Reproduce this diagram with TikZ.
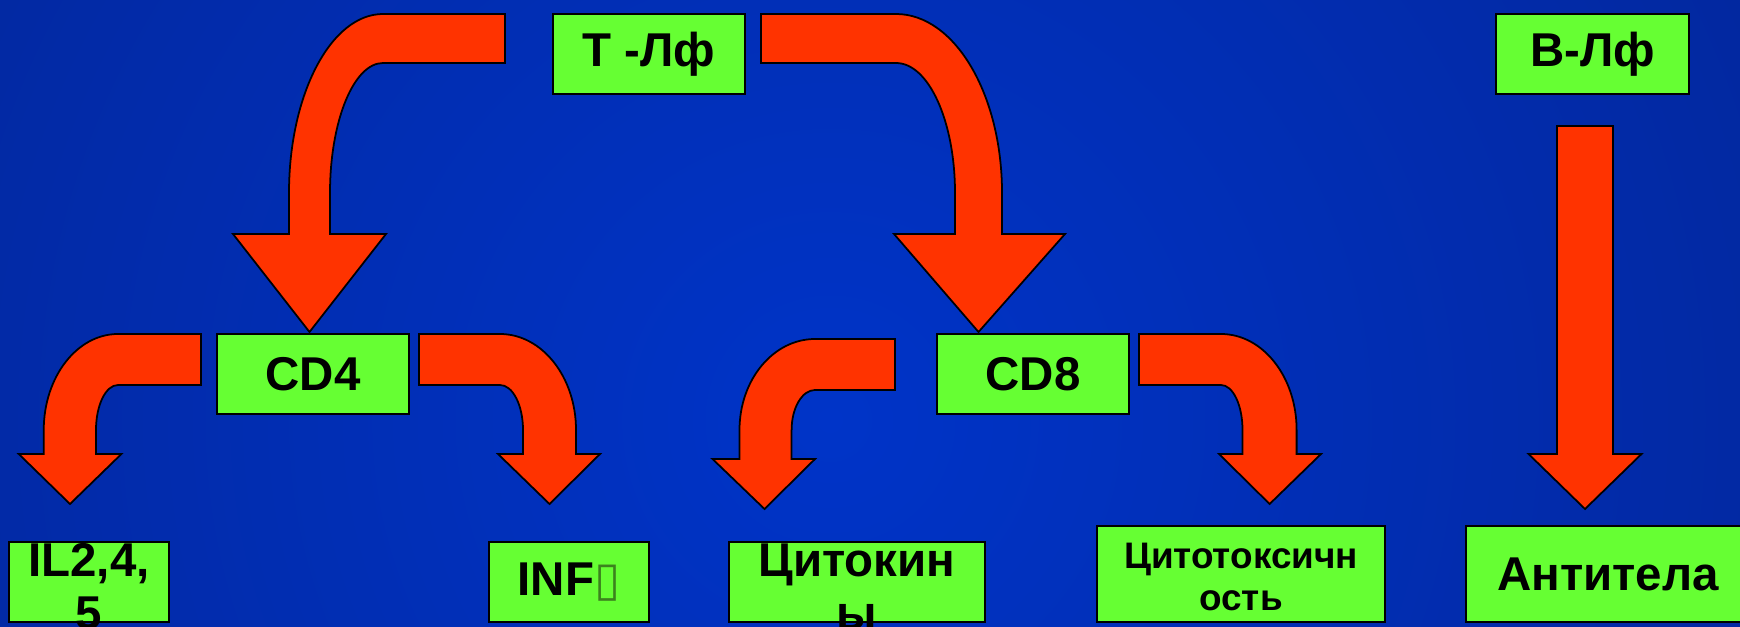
\documentclass[tikz,border=0pt]{standalone}
\usepackage{fontspec}
\setmainfont{Liberation Sans}
\newfontfamily\symfont{DejaVu Sans}
\definecolor{bgedge}{RGB}{5,28,120}
\definecolor{bgmid}{RGB}{0,52,200}
\definecolor{arrowred}{RGB}{255,51,0}
\definecolor{cellgreen}{RGB}{102,255,51}
\definecolor{tofugreen}{RGB}{60,130,30}
\begin{document}
\begin{tikzpicture}[x=0.1mm,y=-0.1mm,
    cell/.style={draw=black,line width=0.7pt,fill=cellgreen,inner sep=0pt},
    bigtext/.style={font=\fontsize{13.5}{15}\selectfont\bfseries,align=center},
    smalltext/.style={font=\fontsize{10.5}{12.2}\selectfont\bfseries,align=center},
    bentarrow/.style={draw=black,line width=0.5pt,fill=arrowred,line join=miter}]

        \useasboundingbox (0,0) rectangle (1740,626);
        \begin{scope}
            \clip (0,0) rectangle (1740,626);
            \shade[inner color=bgmid,outer color=bgedge] (830,420) circle (200mm);
        \end{scope}

        % T-Lf -> CD4, T-Lf -> CD8
        \draw[bentarrow] (505,14) -- (383,14) .. controls (331.1,14) and (289,94.1) .. (289,193)
            -- (289,234) -- (233,234) -- (309.5,332) -- (386,234) -- (330,234) -- (330,193)
            .. controls (330,121.2) and (353.7,63) .. (383,63) -- (505,63) -- cycle;
        \draw[bentarrow] (761,14) -- (896,14) .. controls (954.5,14) and (1002,94.1) .. (1002,193)
            -- (1002,234) -- (1065,234) -- (978.5,332) -- (894,234) -- (955,234) -- (955,193)
            .. controls (955,121.2) and (928.6,63) .. (896,63) -- (761,63) -- cycle;

        % B-Lf -> antibodies
        \draw[bentarrow] (1557,126) -- (1613,126) -- (1613,454) -- (1641.5,454) -- (1585,509)
            -- (1528.5,454) -- (1557,454) -- cycle;

        % CD4 -> IL, INF
        \draw[bentarrow] (201,334) -- (118,334) .. controls (77,334) and (43.75,377) .. (43.75,430)
            -- (43.75,454) -- (18.75,454) -- (70,504) -- (121.4,454) -- (96,454) -- (96,430)
            .. controls (96,405.1) and (105.8,385) .. (118,385) -- (201,385) -- cycle;
        \draw[bentarrow] (419,334) -- (500,334) .. controls (542,334) and (576,377) .. (576,430)
            -- (576,454) -- (600,454) -- (549.5,504) -- (498,454) -- (523,454) -- (523,430)
            .. controls (523,405.1) and (512.7,385) .. (500,385) -- (419,385) -- cycle;

        % CD8 -> cytokines, cytotoxicity
        \draw[bentarrow] (895,339) -- (815,339) .. controls (773.3,339) and (739.5,379.7) .. (739.5,430)
            -- (739.5,459) -- (712.5,459) -- (764.5,509) -- (815,459) -- (791.6,459) -- (791.6,430)
            .. controls (791.6,407.9) and (802.1,390) .. (815,390) -- (895,390) -- cycle;
        \draw[bentarrow] (1139,334) -- (1221,334) .. controls (1262.8,334) and (1296.6,377) .. (1296.6,430)
            -- (1296.6,454) -- (1321,454) -- (1269.6,504) -- (1219,454) -- (1242.5,454) -- (1242.5,430)
            .. controls (1242.5,405.1) and (1232.9,385) .. (1221,385) -- (1139,385) -- cycle;

        % cells
        \node[cell,minimum width=19.2mm,minimum height=8mm] (tlf) at (649,54) {};
        \node[cell,minimum width=19.3mm,minimum height=8mm] (blf) at (1592.5,54) {};
        \node[cell,minimum width=19.2mm,minimum height=8mm] (cd4) at (313,374) {};
        \node[cell,minimum width=19.2mm,minimum height=8mm] (cd8) at (1033,374) {};
        \node[cell,minimum width=16mm,minimum height=8mm] (il) at (89,582) {};
        \node[cell,minimum width=16mm,minimum height=8mm] (inf) at (569,582) {};
        \node[cell,minimum width=25.6mm,minimum height=8mm] (cyt) at (857,582) {};
        \node[cell,minimum width=28.8mm,minimum height=9.6mm] (tox) at (1241,574) {};
        \node[cell,minimum width=28.4mm,minimum height=9.6mm] (ab) at (1608,574) {};

        % texts
        \node[bigtext] at (tlf.center) {Т -Лф};
        \node[bigtext] at (blf.center) {В-Лф};
        \node[bigtext] at (cd4.center) {CD4};
        \node[bigtext] at (cd8.center) {CD8};
        \node[bigtext,yshift=-0.5mm] at (il.center) {IL2,4,\\5};
        \node[bigtext] at (inf.center) {INF{\symfont\mdseries\color{tofugreen}▯}};
        \node[bigtext,yshift=-0.5mm] at (cyt.center) {Цитокин\\ы};
        \node[smalltext,yshift=-0.3mm] at (tox.center) {Цитотоксичн\\ость};
        \node[bigtext] at (ab.center) {Антитела};
\end{tikzpicture}
\end{document}
